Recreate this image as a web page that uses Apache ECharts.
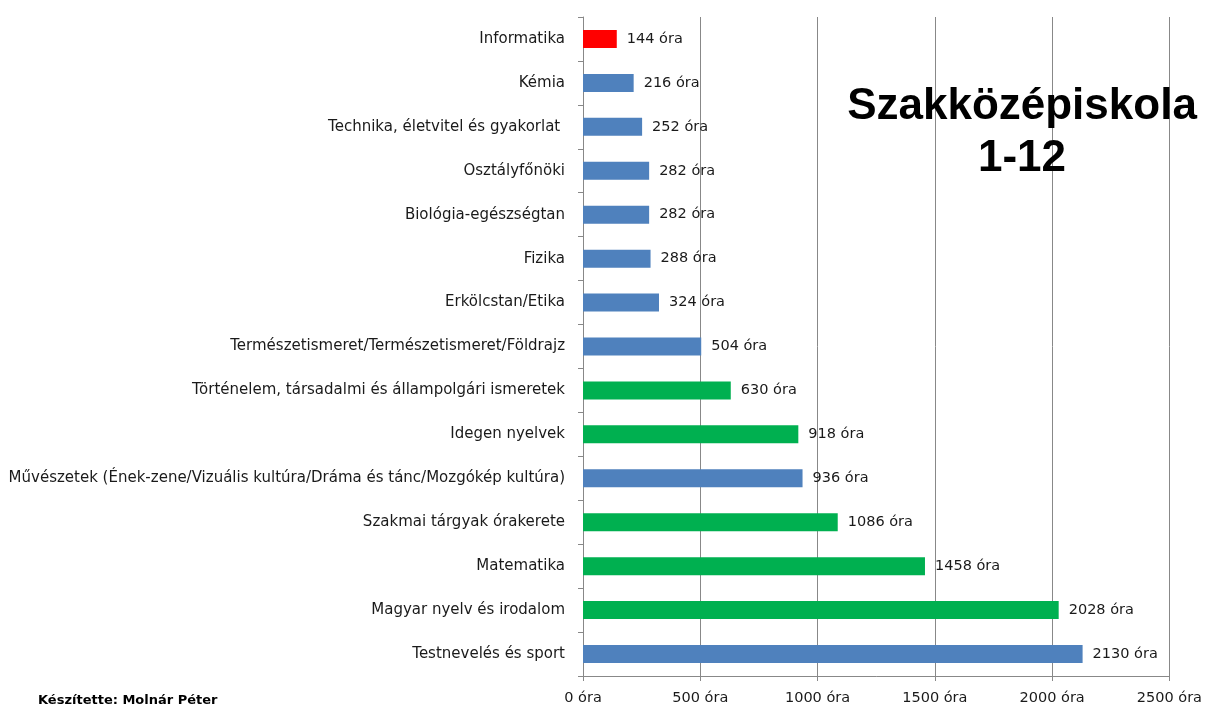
<!DOCTYPE html>
<html><head><meta charset="utf-8">
<script src="https://cdn.jsdelivr.net/npm/echarts@6/dist/echarts.min.js"></script>
<style>html,body{margin:0;padding:0;background:#fff}#c{width:1205px;height:707px}</style>
</head><body><div id="c"></div>
<script>
const categories = [
  "Informatika",
  "Kémia",
  "Technika, életvitel és gyakorlat ",
  "Osztályfőnöki",
  "Biológia-egészségtan",
  "Fizika",
  "Erkölcstan/Etika",
  "Természetismeret/Természetismeret/Földrajz",
  "Történelem, társadalmi és állampolgári ismeretek",
  "Idegen nyelvek",
  "Művészetek (Ének-zene/Vizuális kultúra/Dráma és tánc/Mozgókép kultúra)",
  "Szakmai tárgyak órakerete",
  "Matematika",
  "Magyar nyelv és irodalom",
  "Testnevelés és sport"
];
const hours = [144, 216, 252, 282, 282, 288, 324, 504, 630, 918, 936, 1086, 1458, 2028, 2130];
const groups = ["red","blue","blue","blue","blue","blue","blue","blue","green","green","blue","green","green","green","blue"];
const palette = {red:"#FF0000", blue:"#4F81BD", green:"#00B050"};
const xTicks = [0, 500, 1000, 1500, 2000, 2500];

const chart = echarts.init(document.getElementById('c'));
chart.setOption({
  animation:false,
  backgroundColor:'#fff',
  grid:{left:583, right:33, top:17, bottom:31, containLabel:false},
  title:[
    {text:'Szakközépiskola\n1-12', left:1017, top:76, textAlign:'center',
     textStyle:{fontFamily:'Liberation Sans', fontWeight:'bold', fontSize:44, lineHeight:52, color:'#000'}},
    {text:'Készítette: Molnár Péter', left:33, top:689,
     textStyle:{fontFamily:'DejaVu Sans', fontWeight:'bold', fontSize:13, color:'#000'}}
  ],
  xAxis:{type:'value', min:xTicks[0], max:xTicks[xTicks.length-1], interval:500,
    axisLine:{show:true, lineStyle:{color:'#888'}},
    axisTick:{show:true, length:5, lineStyle:{color:'#888'}},
    splitLine:{show:true, lineStyle:{color:'#888', width:1}},
    axisLabel:{formatter:v=>v+' óra', color:'#1a1a1a', fontFamily:'DejaVu Sans', fontSize:14.5, margin:15}
  },
  yAxis:{type:'category', data:categories, inverse:true,
    axisLine:{show:true, lineStyle:{color:'#888'}},
    axisTick:{show:true, length:5, lineStyle:{color:'#888'}},
    axisLabel:{color:'#1a1a1a', fontFamily:'DejaVu Sans', fontSize:15, margin:18}
  },
  series:[{type:'bar', barWidth:18,
    data:hours.map((v,i)=>({value:v, itemStyle:{color:palette[groups[i]]}})),
    label:{show:true, position:'right', distance:10, formatter:p=>p.value+' óra', color:'#1a1a1a', fontFamily:'DejaVu Sans', fontSize:14.5}
  }]
});
</script></body></html>
